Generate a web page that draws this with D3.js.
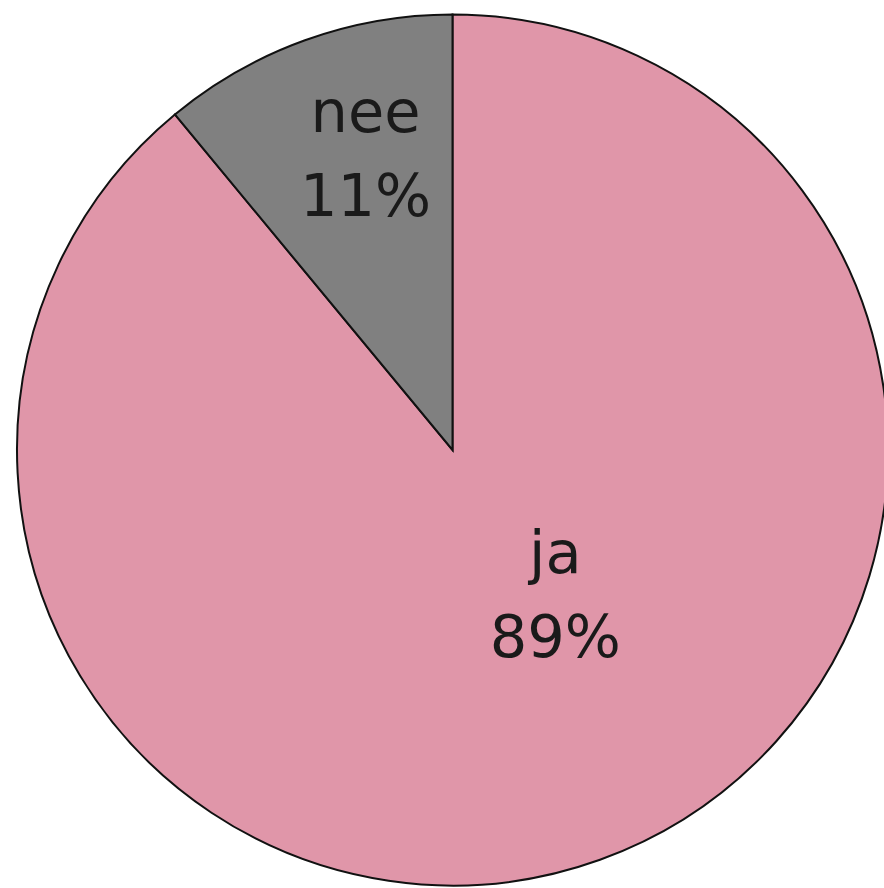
<!DOCTYPE html>
<html>
<head>
<meta charset="utf-8">
<script src="https://cdn.jsdelivr.net/npm/d3@7"></script>
<style>
  html, body { margin: 0; padding: 0; background: #fff; }
  svg { display: block; }
</style>
</head>
<body>
<div id="chartContainer"></div>
<script>
// data
const categories = ["ja", "nee"];
const values = [89, 11];
const colors = ["#e096a9", "#808080"];

const width = 884;
const height = 888;
const cx = 452.5, cy = 450, radius = 435.5;

let svg = d3.select("#chartContainer")
  .append("svg")
  .attr("width", width)
  .attr("height", height);

let g = svg.append("g").attr("transform", `translate(${cx},${cy})`);

let data = categories.map((c, i) => ({ name: c, value: values[i] }));

// start at 12 o'clock, ja runs clockwise, nee ends back at the top
let pie = d3.pie().sort(null).value((d) => d.value);
let arcs = pie(data);

let arc = d3.arc().innerRadius(0).outerRadius(radius);

g.selectAll(".slice")
  .data(arcs)
  .enter()
  .append("path")
  .attr("class", "slice")
  .attr("d", arc)
  .attr("fill", (d, i) => colors[i])
  .attr("stroke", "#111")
  .attr("stroke-width", 2)
  .attr("stroke-linejoin", "miter");

// label spot per slice (Excel-like placement, not on the bisector)
const labelPos = {
  ja: d3.pointRadial(148 * Math.PI / 180, 194),
  nee: d3.pointRadial(-17.5 * Math.PI / 180, 289)
};

let total = d3.sum(values);
let labels = g.selectAll(".lbl")
  .data(arcs)
  .enter()
  .append("text")
  .attr("class", "lbl")
  .attr("text-anchor", "middle")
  .attr("font-family", "DejaVu Sans, sans-serif")
  .attr("font-size", 59)
  .attr("fill", "#1a1a1a")
  .attr("transform", (d) => {
    let p = labelPos[d.data.name];
    return `translate(${p[0]},${p[1]})`;
  });

labels.append("tspan")
  .attr("x", 0)
  .attr("y", -42)
  .text((d) => d.data.name);

labels.append("tspan")
  .attr("x", 0)
  .attr("y", 42)
  .text((d) => Math.round(d.data.value / total * 100) + "%");
</script>
</body>
</html>
